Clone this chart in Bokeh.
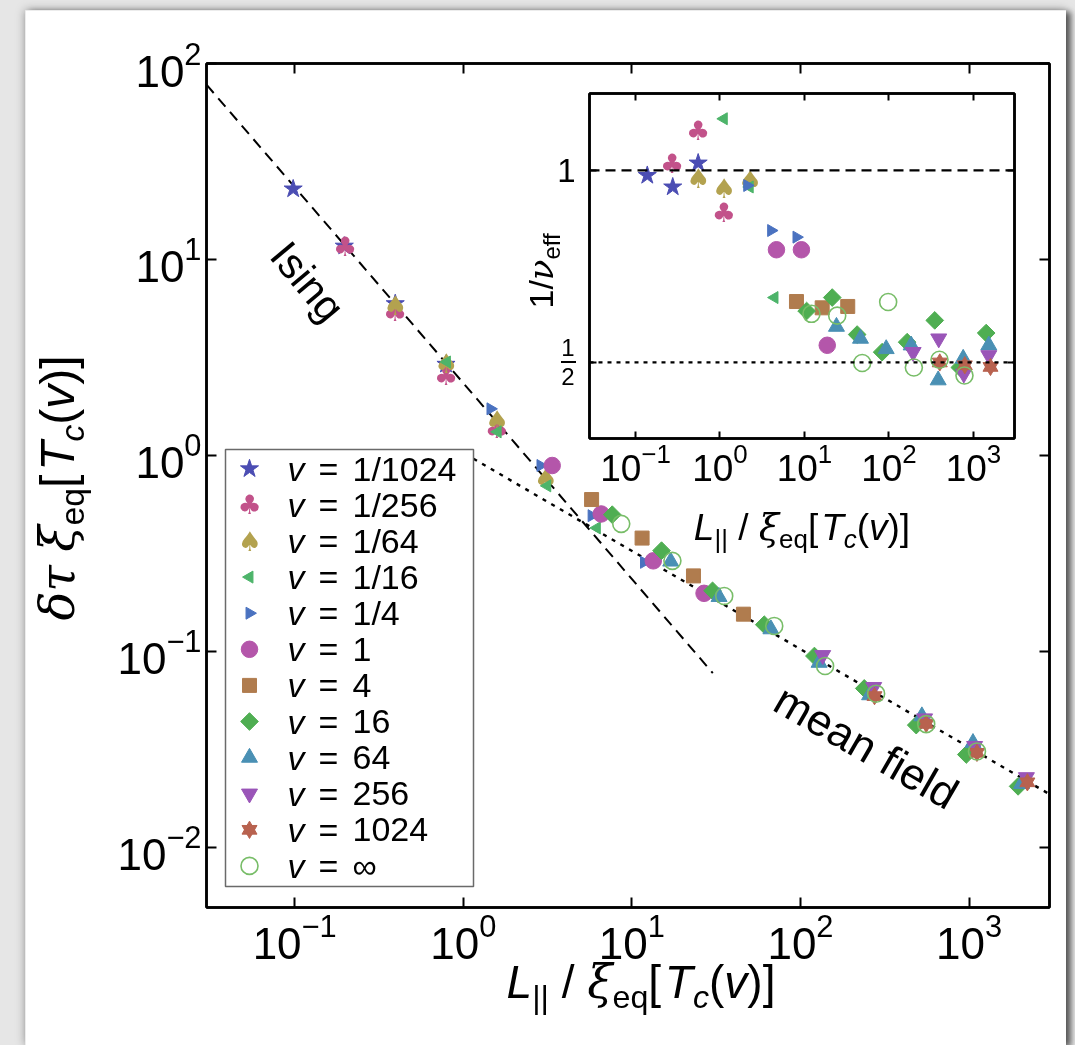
import math
from bokeh.plotting import figure
from bokeh.models import (Range1d, LinearScale, LogAxis, Label, FixedTicker,
                          CustomJSTickFormatter, Div, Span)
from bokeh.embed import file_html
from bokeh.resources import INLINE
from bokeh.core.properties import value

# ---------------- data ----------------
v_labels = ["1/1024", "1/256", "1/64", "1/16", "1/4", "1", "4", "16", "64", "256", "1024", "∞"]

# main panel: x = L_par / xi_eq[Tc(v)], y = delta tau * xi_eq[Tc(v)]
x_v1_1024 = [0.098, 0.197, 0.395, 0.79]
y_v1_1024 = [22.9, 11.7, 5.95, 2.92]
x_v1_256 = [0.199, 0.394, 0.79, 1.58]
y_v1_256 = [11.6, 5.41, 2.57, 1.37]
x_v1_64 = [0.394, 0.79, 1.58, 3.08]
y_v1_64 = [5.85, 2.94, 1.51, 0.76]
x_v1_16 = [0.80, 1.60, 3.15, 6.2]
y_v1_16 = [3.0, 1.32, 0.70, 0.427]
x_v1_4 = [1.45, 2.87, 5.77, 11.8]
y_v1_4 = [1.73, 0.889, 0.493, 0.285]
x_v1 = [3.37, 6.58, 13.4, 26.8]
y_v1 = [0.889, 0.503, 0.290, 0.198]
x_v4 = [5.77, 11.5, 23.2, 45.9]
y_v4 = [0.596, 0.379, 0.243, 0.155]
x_v16 = [7.65, 15.0, 30.1, 61.0, 121.0, 239.0, 486.0, 963.0, 1954.0]
y_v16 = [0.499, 0.327, 0.204, 0.137, 0.0948, 0.0648, 0.0421, 0.0298, 0.0205]
x_v64 = [17.0, 32.9, 66.8, 129.0, 257.0, 525.0, 1055.0, 2046.0]
y_v64 = [0.288, 0.190, 0.130, 0.0877, 0.0599, 0.0468, 0.0342, 0.0211]
x_v256 = [135.5, 272.0, 545.0, 1079.0, 2188.0]
y_v256 = [0.0957, 0.0658, 0.0455, 0.0329, 0.0228]
x_v1024 = [275.0, 557.0, 1114.0, 2218.0]
y_v1024 = [0.0592, 0.0427, 0.0304, 0.0215]
x_vinf = [8.65, 17.4, 35.3, 69.9, 140.0, 281.0, 557.0, 1114.0]
y_vinf = [0.448, 0.290, 0.192, 0.135, 0.0843, 0.0609, 0.0426, 0.0309]

# inset: x = L_par / xi_eq[Tc(v)], y = 1/nu_eff
ix_v1_1024 = [0.138, 0.276, 0.552]
iy_v1_1024 = [0.982, 0.942, 1.027]
ix_v1_256 = [0.272, 0.552, 1.11]
iy_v1_256 = [1.024, 1.155, 0.860]
ix_v1_64 = [0.552, 1.11, 2.25]
iy_v1_64 = [0.971, 0.936, 0.965]
ix_v1_16 = [1.11, 2.25, 4.42]
iy_v1_16 = [1.205, 0.942, 0.632]
ix_v1_4 = [2.10, 4.03, 8.04]
iy_v1_4 = [0.947, 0.805, 0.786]
ix_v1 = [4.66, 9.2, 18.6]
iy_v1 = [0.751, 0.751, 0.532]
ix_v4 = [8.04, 16.2, 32.5]
iy_v4 = [0.623, 0.609, 0.612]
ix_v16 = [10.6, 21.3, 42.0, 83.0, 164.0, 348.0, 689.0, 1413.0]
iy_v16 = [0.602, 0.632, 0.553, 0.519, 0.538, 0.582, 0.491, 0.556]
ix_v64 = [23.9, 46.0, 92.7, 183.0, 382.0, 755.0, 1518.0]
iy_v64 = [0.569, 0.545, 0.525, 0.532, 0.469, 0.507, 0.532]
ix_v256 = [193.0, 388.0, 768.0, 1518.0]
iy_v256 = [0.519, 0.545, 0.480, 0.513]
ix_v1024 = [399.0, 789.0, 1589.0]
iy_v1024 = [0.500, 0.495, 0.492]
ix_vinf = [12.1, 24.4, 48.2, 97.8, 197.0, 396.0, 782.0]
iy_vinf = [0.596, 0.592, 0.499, 0.622, 0.491, 0.505, 0.477]

# reference lines
ising_x = [0.03, 30.2]
ising_y = [78.0, 0.0776]
mf_x = [1.15, 3000.0]
mf_y = [0.963, 0.0187]
inv_nu_ising = 1.0
inv_nu_mf = 0.5

main_x = [x_v1_1024, x_v1_256, x_v1_64, x_v1_16, x_v1_4, x_v1, x_v4, x_v16, x_v64, x_v256, x_v1024, x_vinf]
main_y = [y_v1_1024, y_v1_256, y_v1_64, y_v1_16, y_v1_4, y_v1, y_v4, y_v16, y_v64, y_v256, y_v1024, y_vinf]
ins_x = [ix_v1_1024, ix_v1_256, ix_v1_64, ix_v1_16, ix_v1_4, ix_v1, ix_v4, ix_v16, ix_v64, ix_v256, ix_v1024, ix_vinf]
ins_y = [iy_v1_1024, iy_v1_256, iy_v1_64, iy_v1_16, iy_v1_4, iy_v1, iy_v4, iy_v16, iy_v64, iy_v256, iy_v1024, iy_vinf]

kinds = ["star", "club", "spade", "left", "right", "circle", "square", "diamond", "up", "down", "hexstar", "open"]
colors = ["#4b4db3", "#c2528a", "#b3a24f", "#4db46a", "#4a72c0", "#b456aa",
          "#b07c4e", "#4fae52", "#4a90b4", "#9a55b8", "#b8624f", "#78bd68"]

SANS = "Liberation Sans"
GREEK = "DejaVu Serif"
SYM = "DejaVu Sans"


def draw(fig, xs, ys, kind, color, **rk):
    n = len(xs)
    common = dict(fill_color=color, line_color=color, **rk)
    if kind == "star":
        fig.scatter(xs, ys, marker="star", size=19, **common)
    elif kind in ("club", "spade"):
        ch = "\u2663" if kind == "club" else "\u2660"
        fig.text(xs, ys, text=[ch] * n, text_font=value(SYM), text_font_size="27px",
                 text_color=color, text_align="center", text_baseline="middle", **rk)
    elif kind == "left":
        fig.scatter(xs, ys, marker="triangle", angle=math.pi / 2, size=12, **common)
    elif kind == "right":
        fig.scatter(xs, ys, marker="triangle", angle=-math.pi / 2, size=12, **common)
    elif kind == "circle":
        fig.scatter(xs, ys, marker="circle", size=16.5, **common)
    elif kind == "square":
        fig.scatter(xs, ys, marker="square", size=14, **common)
    elif kind == "diamond":
        fig.scatter(xs, ys, marker="square", angle=math.pi / 4, size=12.5, **common)
    elif kind == "up":
        fig.scatter(xs, ys, marker="triangle", size=16, **common)
    elif kind == "down":
        fig.scatter(xs, ys, marker="inverted_triangle", size=16, **common)
    elif kind == "hexstar":
        fig.scatter(xs, ys, marker="triangle", size=15, **common)
        fig.scatter(xs, ys, marker="inverted_triangle", size=15, **common)
    elif kind == "open":
        fig.scatter(xs, ys, marker="circle", size=17, fill_color=None, line_color=color,
                    line_width=1.6, **rk)


def style_axes(fig, font_size, tick_in, standoff):
    for ax in fig.axis:
        ax.axis_line_width = 2.5
        ax.axis_line_color = "black"
        ax.major_tick_line_width = 2
        ax.major_tick_line_color = "black"
        ax.major_tick_in = tick_in
        ax.major_tick_out = 0
        ax.minor_tick_line_color = None
        ax.major_label_text_font = SANS
        ax.major_label_text_font_size = font_size
        ax.major_label_text_color = "black"
        ax.major_label_standoff = standoff


def hide_labels(ax):
    ax.major_label_text_font_size = "1px"
    ax.major_label_text_color = None
    ax.major_label_standoff = 0


def sub(s):
    return f'<span style="font-size:70%;position:relative;top:0.3em">{s}</span>'


def it(s, greek=False):
    fam = f"font-family:'{GREEK}';" if greek else ""
    return f'<i style="{fam}">{s}</i>'


tail = it("ξ", True) + sub("eq") + "[<span style='margin-left:0.08em'></span>" + it("T") + sub(it("c")) + "(" + it("v") + ")]"
xlabel_html = it("L") + sub("||") + " / " + tail
ylabel_html = it("δτ", True) + "&nbsp;" + tail
inset_ylabel_html = "1/" + it("ν", True) + sub("eff")


def text_div(html, cx, cy_base, size, w, h, rotate=False):
    # cx, cy_base: centre along the text and baseline position (page pixels)
    inner = (f'<div style="width:{w}px;height:{h}px;line-height:{h}px;text-align:center;'
             f"font-family:'{SANS}';font-size:{size}px;color:black;white-space:nowrap\">{html}</div>")
    off = 0.3465 * size  # baseline lies this far below the middle of the line box
    st = {"position": "absolute", "margin": "0px"}
    if rotate:
        ccx, ccy = cy_base - off, cx  # here cx is the vertical centre, cy_base the baseline x
        st.update({"left": f"{ccx - w / 2:.1f}px", "top": f"{ccy - h / 2:.1f}px",
                   "transform": "rotate(-90deg)"})
    else:
        st.update({"left": f"{cx - w / 2:.1f}px", "top": f"{cy_base - off - h / 2:.1f}px"})
    return Div(text=inner, width=w, height=h, styles=st)


# ---------------- background ----------------
bg = Div(text="", width=1075, height=1045,
         styles={"position": "fixed", "left": "0px", "top": "0px", "margin": "0px",
                 "background-color": "#e6e6e6"})

# ---------------- main figure ----------------
p = figure(width=1041, height=1035, x_axis_type="log", y_axis_type="log",
           x_range=Range1d(0.03, 3000), y_range=Range1d(0.00494, 100),
           output_backend="svg", toolbar_location=None,
           min_border_left=181, min_border_right=17, min_border_top=53, min_border_bottom=138,
           border_fill_color="white", background_fill_color="white",
           outline_line_color="black", outline_line_width=2.5,
           styles={"position": "absolute", "left": "25px", "top": "10px", "margin": "0px",
                   "box-shadow": "0px 0px 9px rgba(0,0,0,0.35), 5px 2px 6px rgba(0,0,0,0.55)"})
p.grid.visible = False
p.extra_x_ranges = {"fx": Range1d(0, 843)}
p.extra_y_ranges = {"fy": Range1d(0, 844)}
p.extra_x_scales = {"fx": LinearScale()}
p.extra_y_scales = {"fy": LinearScale()}
top_ax = LogAxis()
right_ax = LogAxis()
p.add_layout(top_ax, "above")
p.add_layout(right_ax, "right")
style_axes(p, "44px", 10, 1)
hide_labels(top_ax)
hide_labels(right_ax)

p.line(ising_x, ising_y, line_color="black", line_width=2, line_dash="11 7")
p.line(mf_x, mf_y, line_color="black", line_width=2.4, line_dash="4 6")

# legend box (frame pixel coordinates)
p.quad(left=[19], right=[267], bottom=[21], top=[458], fill_color="white",
       line_color="#6a6a6a", line_width=1.5, x_range_name="fx", y_range_name="fy")
for i, (kind, col, lab) in enumerate(zip(kinds, colors, v_labels)):
    ry = 438.7 - 36.1 * i
    draw(p, [43], [ry], kind, col, x_range_name="fx", y_range_name="fy")
    p.add_layout(Label(x=81, y=ry, x_range_name="fx", y_range_name="fy", text="v",
                       text_font=SANS, text_font_style="italic", text_font_size="34px",
                       text_color="black", text_baseline="middle", text_align="left"))
    p.add_layout(Label(x=112, y=ry, x_range_name="fx", y_range_name="fy", text="=",
                       text_font=SANS, text_font_size="34px", text_color="black",
                       text_baseline="middle", text_align="left"))
    p.add_layout(Label(x=146, y=ry, x_range_name="fx", y_range_name="fy", text=lab,
                       text_font=SANS, text_font_size="34px", text_color="black",
                       text_baseline="middle", text_align="left"))

for xs, ys, kind, col in zip(main_x, main_y, kinds, colors):
    draw(p, xs, ys, kind, col)

p.add_layout(Label(x=101, y=626, x_range_name="fx", y_range_name="fy", text="Ising",
                   text_font=SANS, text_font_size="42px", text_align="center", text_color="black",
                   text_baseline="middle", angle=math.radians(-50)))
p.add_layout(Label(x=660, y=161, x_range_name="fx", y_range_name="fy", text="mean field",
                   text_font=SANS, text_font_size="44px", text_align="center", text_color="black",
                   text_baseline="middle", angle=math.radians(-30)))

# ---------------- inset figure ----------------
inset = figure(width=510, height=465, x_axis_type="log", y_axis_type="log",
               x_range=Range1d(0.02858, 3057), y_range=Range1d(0.38, 1.32),
               output_backend="svg", toolbar_location=None,
               min_border_left=69, min_border_right=16, min_border_top=13, min_border_bottom=107,
               border_fill_color=None, background_fill_color="white",
               outline_line_color="black", outline_line_width=2.5,
               styles={"position": "absolute", "left": "520px", "top": "80px", "margin": "0px"})
inset.grid.visible = False
itop = LogAxis()
iright = LogAxis()
inset.add_layout(itop, "above")
inset.add_layout(iright, "right")
style_axes(inset, "37px", 7, 0)
hide_labels(itop)
hide_labels(iright)
for ax in (inset.yaxis[0], iright):
    ax.ticker = FixedTicker(ticks=[inv_nu_mf, inv_nu_ising])
inset.yaxis[0].formatter = CustomJSTickFormatter(code="return tick > 0.75 ? '1' : ' ';")
inset.yaxis[0].major_label_standoff = 14
inset.yaxis[0].major_label_text_font_size = "33px"

inset.add_layout(Span(location=inv_nu_ising, dimension="width", line_color="black",
                      line_width=2.2, line_dash="10 6"))
inset.add_layout(Span(location=inv_nu_mf, dimension="width", line_color="black",
                      line_width=2.2, line_dash="4 5"))

for xs, ys, kind, col in zip(ins_x, ins_y, kinds, colors):
    draw(inset, xs, ys, kind, col)

# ---------------- axis titles (HTML text) ----------------
xlab = text_div(xlabel_html, 641, 998, 46, 440, 60)
ylab = text_div(ylabel_html, 488, 74, 48, 440, 62, rotate=True)
ixlab = text_div(xlabel_html, 802, 541, 37, 340, 50)
iylab = text_div(inset_ylabel_html, 271, 553, 34, 200, 50, rotate=True)
half = Div(text=("<div style=\"width:30px;font-family:'Liberation Sans';font-size:24px;"
                 "color:black;text-align:center\">"
                 "<div style='line-height:27px;height:27px'>1</div>"
                 "<div style='width:15px;margin:0 auto;border-top:2px solid black'></div>"
                 "<div style='line-height:27px;height:27px'>2</div></div>"),
           width=30, height=58,
           styles={"position": "absolute", "left": "553px", "top": "334px", "margin": "0px"})

open("out.html", "w").write(file_html([bg, p, inset, xlab, ylab, ixlab, iylab, half], INLINE))
